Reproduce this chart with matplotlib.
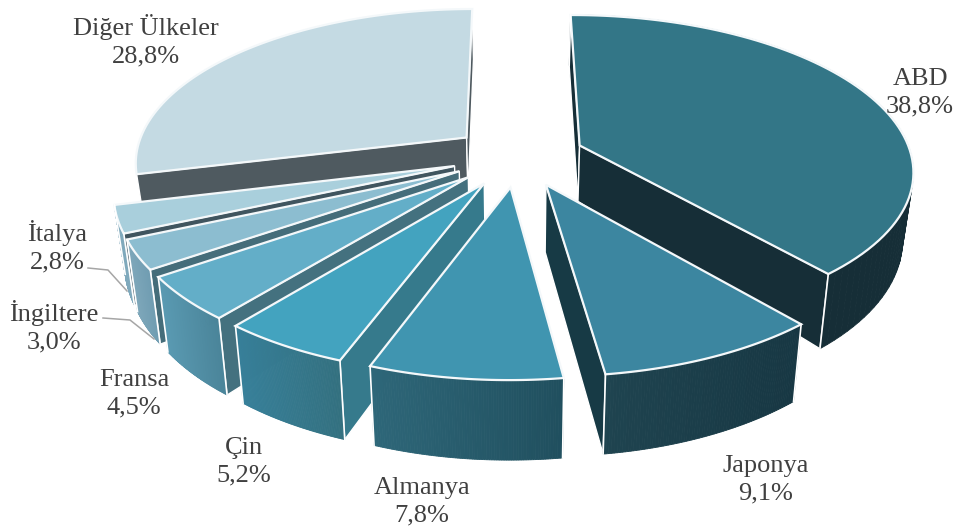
import numpy as np
import matplotlib
matplotlib.use('Agg')
import matplotlib.pyplot as plt
from matplotlib.colors import to_rgb
from matplotlib.patches import Polygon

# veriler
ulkeler = ['ABD', 'Japonya', 'Almanya', 'Çin', 'Fransa', 'İngiltere', 'İtalya', 'Diğer Ülkeler']
paylar = [38.8, 9.1, 7.8, 5.2, 4.5, 3.0, 2.8, 28.8]

# stil
ust_renk = ['#337687', '#3c86a0', '#4095b0', '#43a3bf', '#63aec8', '#8cbdd0', '#a9cfdc', '#c4dae3']
yan_renk = ['#162e37', '#173a45', '#204f5e', '#367a8c', '#44717f', '#456d7a', '#40555f', '#4f5a60']
dis_renk = [('#162e37', '#162e37'), ('#1f4450', '#173743'), ('#2e6779', '#204f5e'),
            ('#37809a', '#33707f'), ('#5a9ab2', '#4a8499'), ('#7ea7ba', '#6f9cb1'),
            ('#7fa9bc', '#7fa9bc'), None]
etiket_yer = [(920, 92.5), (766, 479.5), (422, 501.5), (244, 461.5), (134, 393.5), (54, 326.5), (57, 246.5), (146, 40.5)]

# geometri
cx, cy = 518.0, 156.0
Rx, Ry = 332.0, 153.1
k = 0.151
patlama = 0.2
baslangic = -0.2


def izdus(u, v):
    s = 1 / (1 + k * v)
    return cx + Rx * u * s, cy - Ry * v * s, s


def alt(x, y, s):
    # duvar yuksekligi one dogru artiyor
    return cx + (x - cx) * 0.973, y + np.interp(s, [0.85, 0.99, 1.03, 1.12, 1.22], [50, 56, 68, 75, 80])


fig = plt.figure(figsize=(9.57, 5.31), dpi=100)
ax = fig.add_axes([0, 0, 1, 1])
ax.set_xlim(0, 957)
ax.set_ylim(531, 0)
ax.axis('off')

# dilim acilari
sinir = baslangic + np.concatenate([[0], np.cumsum(paylar)]) * 360 / sum(paylar)
orta = (sinir[:-1] + sinir[1:]) / 2
sira = np.argsort(-np.cos(np.radians(orta)))

for i in sira:
    t_orta = np.radians(orta[i])
    ou, ov = patlama * np.sin(t_orta), patlama * np.cos(t_orta)
    t = np.radians(np.linspace(sinir[i], sinir[i + 1], 80))
    xs, ys, ss = izdus(ou + np.sin(t), ov + np.cos(t))
    ax_, ay_, as_ = izdus(ou, ov)
    bx, by = alt(xs, ys, ss)
    abx, aby = alt(ax_, ay_, as_)

    # yan duvarlar, gorunmeyenleri atla
    for j, d in ((0, -1), (-1, 0)):
        dx, dy = xs[j] - ax_, ys[j] - ay_
        ic = dx * (ys[d] - ay_) - dy * (xs[d] - ax_)
        if ic * dx < 0:
            ax.add_patch(Polygon([(ax_, ay_), (xs[j], ys[j]), (bx[j], by[j]), (abx, aby)],
                                 fc=yan_renk[i], ec='white', lw=1.0, joinstyle='round'))

    # dis duvar, renk gecisli
    if dis_renk[i] is not None:
        c1, c2 = np.array(to_rgb(dis_renk[i][0])), np.array(to_rgb(dis_renk[i][1]))
        xmin, xmax = xs.min(), xs.max()
        for j in range(len(xs) - 1):
            f = ((xs[j] + xs[j + 1]) / 2 - xmin) / (xmax - xmin)
            renk = c1 + (c2 - c1) * f
            ax.add_patch(Polygon([(xs[j], ys[j]), (xs[j + 1], ys[j + 1]), (bx[j + 1], by[j + 1]), (bx[j], by[j])],
                                 fc=renk, ec=renk, lw=0.6))
        for j in (0, -1):
            ax.plot([xs[j], bx[j]], [ys[j], by[j]], color='white', lw=1.2)

    # ust yuz
    ax.add_patch(Polygon(np.column_stack([np.r_[ax_, xs], np.r_[ay_, ys]]),
                         fc=ust_renk[i], ec='#f4f8fa', lw=1.6, joinstyle='miter'))

# etiketler
for ad, pay, (x, y) in zip(ulkeler, paylar, etiket_yer):
    metin = ad + '\n' + f'{pay:.1f}'.replace('.', ',') + '%'
    ax.text(x, y, metin, ha='center', va='center', family='Liberation Serif',
            fontsize=19, color='#404040', linespacing=1.3)

# kilavuz cizgileri
ax.plot([88, 108, 127], [268, 270, 291], color='#a6a6a6', lw=1.1)
ax.plot([103, 130, 154], [318, 320, 339], color='#a6a6a6', lw=1.1)

fig.savefig('out.png', dpi=100)
